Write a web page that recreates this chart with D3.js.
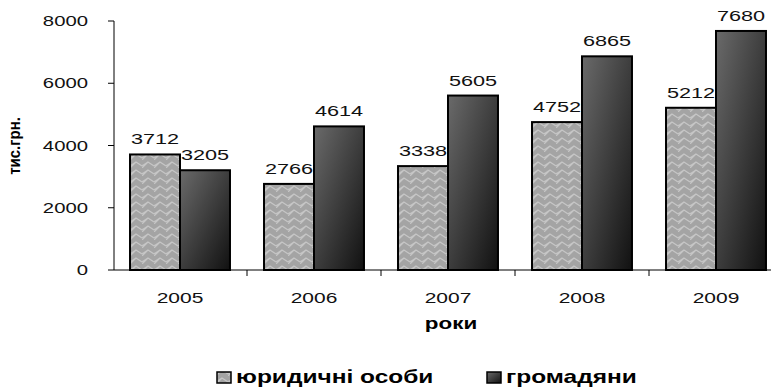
<!DOCTYPE html>
<html>
<head>
<meta charset="utf-8">
<script src="https://cdn.jsdelivr.net/npm/d3@7"></script>
<style>
  body { margin: 0; background: #fff; }
  svg text { font-family: "Liberation Sans", Arial, sans-serif; }
</style>
</head>
<body>
<div id="chart"></div>
<script>
var years = ['2005', '2006', '2007', '2008', '2009'];
var legal = [3712, 2766, 3338, 4752, 5212];
var citizens = [3205, 4614, 5605, 6865, 7680];
var seriesNames = ['юридичні особи', 'громадяни'];
var yTicks = [0, 2000, 4000, 6000, 8000];

var width = 771, height = 390;
var stretch = 1.4; // text in the original is widened
var svg = d3.select('#chart').append('svg')
    .attr('width', width)
    .attr('height', height);

// horizontally stretched text helper
function label(x, y, txt, size, anchor, bold) {
    return svg.append('text')
        .attr('transform', 'translate(' + x + ',' + y + ') scale(' + stretch + ',1)')
        .attr('text-anchor', anchor)
        .attr('font-size', size)
        .attr('font-weight', bold ? 'bold' : 'normal')
        .attr('fill', bold ? '#000' : '#111')
        .text(txt);
}

var defs = svg.append('defs');
var pat = defs.append('pattern')
    .attr('id', 'zig')
    .attr('patternUnits', 'userSpaceOnUse')
    .attr('width', 12)
    .attr('height', 8);
pat.append('rect').attr('width', 12).attr('height', 8).attr('fill', '#a4a4a4');
pat.append('path')
    .attr('d', 'M0,8 L6,2 L12,6 M0,4 L-6,8 M12,6 L18,2 M0,6 L6,2')
    .attr('stroke', '#c6c6c6')
    .attr('stroke-width', 1.2)
    .attr('fill', 'none');

var grad = defs.append('linearGradient')
    .attr('id', 'dark')
    .attr('x1', '0%').attr('y1', '0%')
    .attr('x2', '100%').attr('y2', '100%');
grad.append('stop').attr('offset', '0%').attr('stop-color', '#6a6a6a');
grad.append('stop').attr('offset', '100%').attr('stop-color', '#111');

var x = d3.scaleBand()
    .domain(years)
    .range([113, 783])
    .paddingInner(0.254)
    .paddingOuter(0.127);

var x1 = d3.scaleBand()
    .domain([0, 1])
    .range([0, x.bandwidth()]);

var y = d3.scaleLinear()
    .domain([0, 8000])
    .range([270, 21]);

// y axis
svg.append('line')
    .attr('x1', 114).attr('x2', 114)
    .attr('y1', y(8000)).attr('y2', y(0))
    .attr('stroke', '#000');
svg.selectAll('.ytick')
    .data(yTicks)
    .enter().append('line')
    .attr('x1', 108).attr('x2', 114)
    .attr('y1', function (d) { return y(d); })
    .attr('y2', function (d) { return y(d); })
    .attr('stroke', '#000');
yTicks.forEach(function (d) {
    label(88, y(d) + 5, d, 14.5, 'end', false);
});

var fills = ['url(#zig)', 'url(#dark)'];
years.forEach(function (yr, i) {
    var g = svg.append('g').attr('transform', 'translate(' + x(yr) + ',0)');
    [legal[i], citizens[i]].forEach(function (v, s) {
        g.append('rect')
            .attr('x', x1(s))
            .attr('y', y(v))
            .attr('width', x1.bandwidth())
            .attr('height', y(0) - y(v))
            .attr('fill', fills[s])
            .attr('stroke', '#000')
            .attr('stroke-width', 2);
    });
});
years.forEach(function (yr, i) {
    [legal[i], citizens[i]].forEach(function (v, s) {
        label(x(yr) + x1(s) + x1.bandwidth() / 2, y(v) - 10, v, 15.5, 'middle', false);
    });
});

// x axis
svg.append('line')
    .attr('x1', 114).attr('x2', 771)
    .attr('y1', y(0)).attr('y2', y(0))
    .attr('stroke', '#000');
var bounds = years.map(function (d) { return x(d) + x.bandwidth() + x.step() * 0.127; });
svg.selectAll('.xtick')
    .data(bounds.slice(0, 4))
    .enter().append('line')
    .attr('x1', function (d) { return d; })
    .attr('x2', function (d) { return d; })
    .attr('y1', y(0)).attr('y2', y(0) + 6)
    .attr('stroke', '#000');
years.forEach(function (d) {
    label(x(d) + x.bandwidth() / 2, 303, d, 15, 'middle', false);
});

label(451, 329, 'роки', 16, 'middle', true);

svg.append('text')
    .attr('transform', 'translate(20,146) scale(1.15,1) rotate(-90)')
    .attr('text-anchor', 'middle')
    .attr('font-size', 15)
    .attr('font-weight', 'bold')
    .text('тис.грн.');

// legend
var legX = [217, 487];
seriesNames.forEach(function (name, s) {
    svg.append('rect')
        .attr('x', legX[s]).attr('y', 372)
        .attr('width', 14).attr('height', 11)
        .attr('fill', fills[s])
        .attr('stroke', '#000')
        .attr('stroke-width', 1.5);
    label(legX[s] + 19, 383, name, 17.5, 'start', true);
});
</script>
</body>
</html>
